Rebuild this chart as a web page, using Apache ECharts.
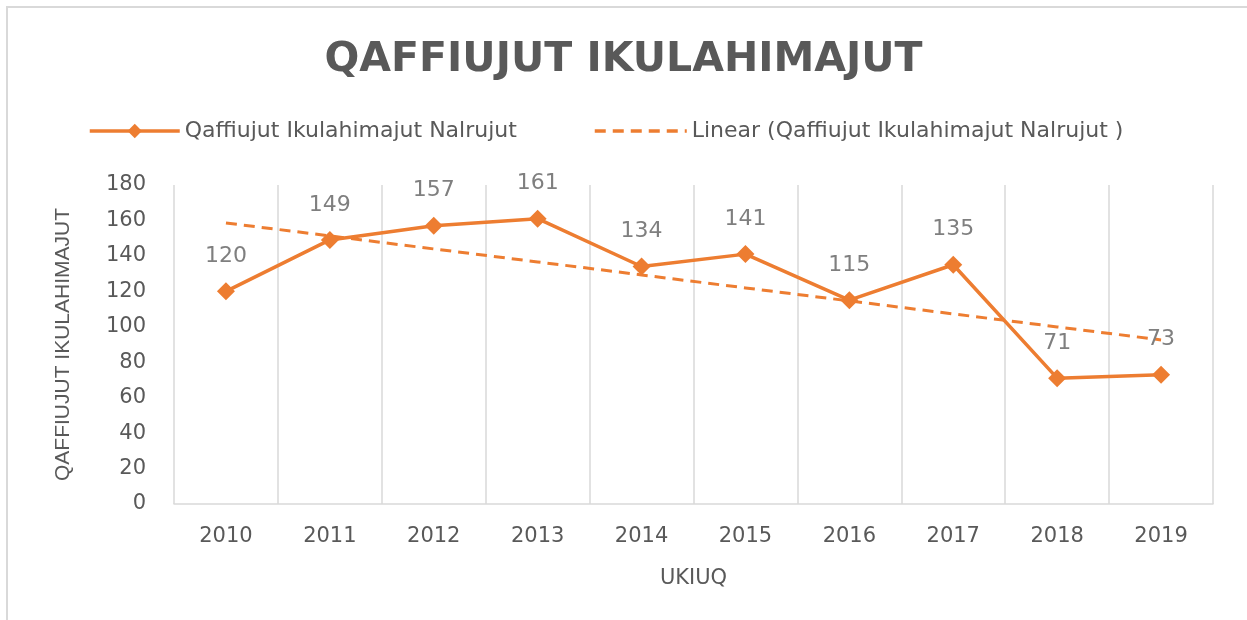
<!DOCTYPE html>
<html>
<head>
<meta charset="utf-8">
<script src="https://cdn.jsdelivr.net/npm/echarts@6/dist/echarts.min.js"></script>
<style>
html,body{margin:0;padding:0;background:#fff;}
#chart{width:1247px;height:620px;}
</style>
</head>
<body>
<div id="chart"></div>
<script>
const titleText = 'QAFFIUJUT IKULAHIMAJUT';
const categories = ['2010','2011','2012','2013','2014','2015','2016','2017','2018','2019'];
const seriesName = 'Qaffiujut Ikulahimajut Nalrujut';
const trendName = 'Linear (Qaffiujut Ikulahimajut Nalrujut )';
const values = [120, 149, 157, 161, 134, 141, 115, 135, 71, 73];
const yAxisName = 'QAFFIUJUT IKULAHIMAJUT';
const xAxisName = 'UKIUQ';

// least-squares linear trendline computed from the data (as the source chart's "Linear" trendline)
function linearTrend(ys) {
  const n = ys.length;
  let sx = 0, sy = 0, sxy = 0, sxx = 0;
  ys.forEach((y, i) => { sx += i; sy += y; sxy += i * y; sxx += i * i; });
  const b = (n * sxy - sx * sy) / (n * sxx - sx * sx);
  const a = (sy - b * sx) / n;
  return ys.map((_, i) => +(a + b * i).toFixed(2));
}
const trend = linearTrend(values);

const orange = '#ED7D31';
const grey = '#595959';
const dash = [11, 7];
const legendText = {fontFamily: 'DejaVu Sans', fontSize: 22, color: grey};
const chart = echarts.init(document.getElementById('chart'), null, {renderer: 'canvas'});
chart.setOption({
  animation: false,
  backgroundColor: '#ffffff',
  title: {
    text: titleText,
    left: 'center',
    top: 35,
    textStyle: {fontFamily: 'DejaVu Sans', fontWeight: 'bold', fontSize: 41, color: grey}
  },
  legend: [
    {
      left: 83,
      top: 115,
      itemWidth: 90,
      itemHeight: 18,
      textStyle: legendText,
      lineStyle: {width: 3.5, color: orange},
      data: [seriesName]
    },
    {
      left: 588,
      top: 115,
      itemWidth: 92,
      itemHeight: 18,
      textStyle: legendText,
      lineStyle: {width: 3.5, color: orange, type: dash},
      itemStyle: {opacity: 0},
      data: [trendName]
    }
  ],
  grid: {left: 174, right: 34, top: 185, bottom: 116, containLabel: false},
  xAxis: {
    type: 'category',
    data: categories,
    boundaryGap: true,
    name: xAxisName,
    nameLocation: 'middle',
    nameGap: 64,
    nameTextStyle: {fontFamily: 'DejaVu Sans', fontSize: 21, color: grey},
    axisLine: {show: true, lineStyle: {color: '#d9d9d9', width: 1.5}},
    axisTick: {show: false},
    axisLabel: {fontFamily: 'DejaVu Sans', fontSize: 21, color: grey, margin: 22},
    splitLine: {show: true, lineStyle: {color: '#d9d9d9', width: 1.5}}
  },
  yAxis: {
    type: 'value',
    min: 0,
    max: 180,
    interval: 20,
    name: yAxisName,
    nameLocation: 'middle',
    nameGap: 100,
    nameTextStyle: {fontFamily: 'Liberation Sans', fontSize: 21, color: grey},
    axisLine: {show: false},
    axisTick: {show: false},
    axisLabel: {fontFamily: 'DejaVu Sans', fontSize: 21, color: grey, margin: 28},
    splitLine: {show: false}
  },
  series: [
    {
      name: seriesName,
      type: 'line',
      data: values,
      symbol: 'diamond',
      symbolSize: 18,
      showAllSymbol: true,
      itemStyle: {color: orange},
      lineStyle: {color: orange, width: 3.5},
      label: {show: true, position: 'top', distance: 15, fontFamily: 'DejaVu Sans', fontSize: 22, color: '#7f7f7f'},
      z: 3
    },
    {
      name: trendName,
      type: 'line',
      data: trend,
      symbol: 'none',
      itemStyle: {color: orange},
      lineStyle: {color: orange, width: 3, type: dash},
      z: 2
    }
  ],
  graphic: [
    {type: 'line', shape: {x1: 6, y1: 7, x2: 1247, y2: 7}, style: {stroke: '#d9d9d9', lineWidth: 2}},
    {type: 'line', shape: {x1: 7, y1: 6, x2: 7, y2: 620}, style: {stroke: '#d9d9d9', lineWidth: 2}}
  ]
});
</script>
</body>
</html>
